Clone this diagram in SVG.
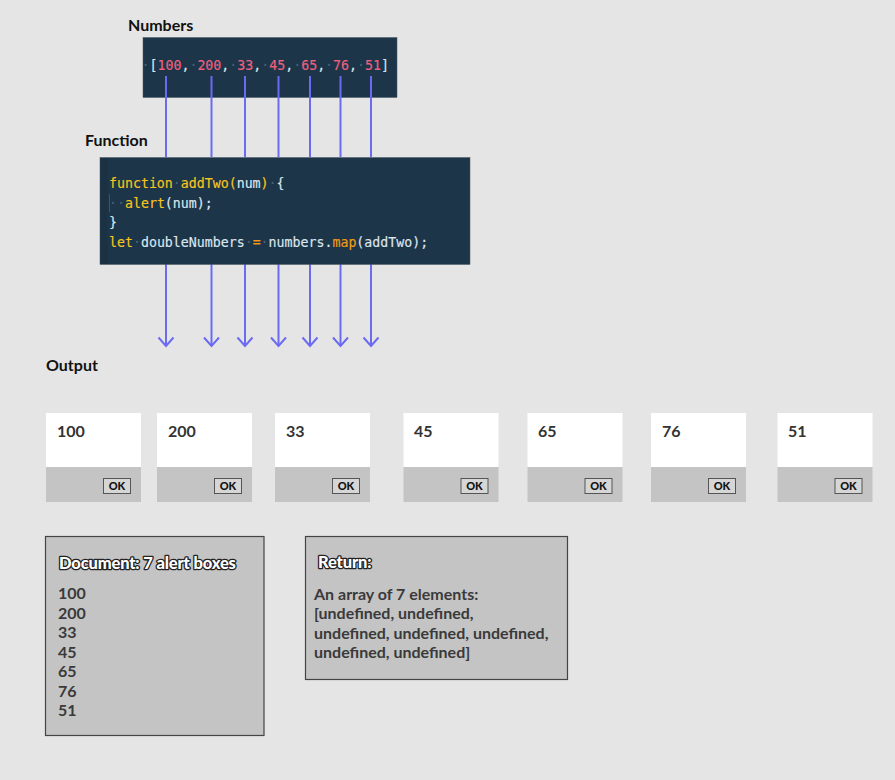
<svg xmlns="http://www.w3.org/2000/svg" width="895" height="780" viewBox="0 0 895 780">
<style>
  .lbl { font-family: Lato, "Liberation Sans", sans-serif; font-weight: bold; font-size: 16px; fill: #111; }
  .code { font-family: "DejaVu Sans Mono", "Liberation Mono", monospace; font-size: 13.25px; fill: #dde6ee; stroke: #dde6ee; stroke-width: 0.15; }
  .ws { fill: #4a6275; stroke: none; }
  .num { fill: #f0607e; stroke: #f0607e; }
  .kw { fill: #f7c51e; stroke: #f7c51e; }
  .op { fill: #f39c12; stroke: #f39c12; }
  .codebox { fill: #1c3549; stroke: #4a5a66; stroke-width: 0.5; }
  .alert-top { fill: #ffffff; }
  .alert-bot { fill: #c4c4c4; }
  .alert-num { font-family: Lato, "Liberation Sans", sans-serif; font-weight: bold; font-size: 16px; fill: #333; }
  .okbtn { fill: #d6d6d6; stroke: #555; stroke-width: 1; }
  .oktxt { font-family: Lato, "Liberation Sans", sans-serif; font-weight: 900; font-size: 11px; fill: #111; text-anchor: middle; }
  .panel { fill: #c4c4c4; stroke: #444; stroke-width: 1.2; }
  .ptitle { font-family: Lato, "Liberation Sans", sans-serif; font-weight: 900; font-size: 16.5px; fill: #fff; stroke: #222; stroke-width: 2.6; paint-order: stroke; stroke-linejoin: round; letter-spacing: -0.15px; }
  .ptext { font-family: Lato, "Liberation Sans", sans-serif; font-weight: bold; font-size: 16px; fill: #3a3a3a; }
  .conn { stroke: #6b6bf2; stroke-width: 2; fill: none; }
</style>
<defs>
  <marker id="arr" markerWidth="20" markerHeight="20" refX="10" refY="10" orient="auto" markerUnits="userSpaceOnUse" viewBox="0 0 20 20">
    <path d="M2.5,1.5 L10,10 L17.5,1.5" transform="rotate(-90 10 10)" fill="none" stroke="#6b6bf2" stroke-width="2"/>
  </marker>
</defs>
<rect x="0" y="0" width="895" height="780" fill="#e5e5e5"/>

<g id="numbers">
  <text class="lbl" x="128" y="31">Numbers</text>
  <rect class="codebox" x="143" y="37.5" width="254" height="60"/>
  <text class="code" x="141.5" y="70" xml:space="preserve"><tspan class="ws">·</tspan>[<tspan class="num">100</tspan>,<tspan class="ws">·</tspan><tspan class="num">200</tspan>,<tspan class="ws">·</tspan><tspan class="num">33</tspan>,<tspan class="ws">·</tspan><tspan class="num">45</tspan>,<tspan class="ws">·</tspan><tspan class="num">65</tspan>,<tspan class="ws">·</tspan><tspan class="num">76</tspan>,<tspan class="ws">·</tspan><tspan class="num">51</tspan>]</text>
</g>

<g id="connectors">
  <line class="conn" x1="166" y1="76" x2="166" y2="157"/>
  <line class="conn" x1="211.5" y1="76" x2="211.5" y2="157"/>
  <line class="conn" x1="245" y1="76" x2="245" y2="157"/>
  <line class="conn" x1="278.5" y1="76" x2="278.5" y2="157"/>
  <line class="conn" x1="310" y1="76" x2="310" y2="157"/>
  <line class="conn" x1="340.5" y1="76" x2="340.5" y2="157"/>
  <line class="conn" x1="371" y1="76" x2="371" y2="157"/>
  <line class="conn" x1="166" y1="264" x2="166" y2="346" marker-end="url(#arr)"/>
  <line class="conn" x1="211.5" y1="264" x2="211.5" y2="346" marker-end="url(#arr)"/>
  <line class="conn" x1="245" y1="264" x2="245" y2="346" marker-end="url(#arr)"/>
  <line class="conn" x1="278.5" y1="264" x2="278.5" y2="346" marker-end="url(#arr)"/>
  <line class="conn" x1="310" y1="264" x2="310" y2="346" marker-end="url(#arr)"/>
  <line class="conn" x1="340.5" y1="264" x2="340.5" y2="346" marker-end="url(#arr)"/>
  <line class="conn" x1="371" y1="264" x2="371" y2="346" marker-end="url(#arr)"/>
</g>

<g id="function">
  <text class="lbl" x="85" y="146">Function</text>
  <rect class="codebox" x="100" y="157.5" width="370" height="107"/>
  <rect x="100.5" y="158" width="7" height="106" fill="#1a3244"/>
  <line x1="109.5" y1="194" x2="109.5" y2="212" stroke="#3c5366" stroke-width="1"/>
  <text class="code" x="109" y="188" xml:space="preserve"><tspan class="kw">function</tspan><tspan class="ws">·</tspan><tspan class="kw">addTwo(</tspan>num<tspan class="kw">)</tspan><tspan class="ws">·</tspan>{</text>
  <text class="code" x="109" y="207.5" xml:space="preserve"><tspan class="ws">··</tspan><tspan class="kw">alert</tspan>(num);</text>
  <text class="code" x="109" y="227" xml:space="preserve">}</text>
  <text class="code" x="109" y="247" xml:space="preserve"><tspan class="kw">let</tspan><tspan class="ws">·</tspan>doubleNumbers<tspan class="ws">·</tspan><tspan class="op">=</tspan><tspan class="ws">·</tspan>numbers.<tspan class="op">map</tspan>(addTwo);</text>
</g>

<g id="output-label">
  <text class="lbl" x="46" y="371">Output</text>
</g>

<g id="alert-100">
  <rect class="alert-top" x="46" y="413" width="95" height="54"/>
  <rect class="alert-bot" x="46" y="467" width="95" height="35"/>
  <text class="alert-num" x="57" y="437">100</text>
  <rect class="okbtn" x="103.5" y="478.5" width="27" height="15"/>
  <text class="oktxt" x="117" y="490">OK</text>
</g>
<g id="alert-200">
  <rect class="alert-top" x="157" y="413" width="95" height="54"/>
  <rect class="alert-bot" x="157" y="467" width="95" height="35"/>
  <text class="alert-num" x="168" y="437">200</text>
  <rect class="okbtn" x="214.5" y="478.5" width="27" height="15"/>
  <text class="oktxt" x="228" y="490">OK</text>
</g>
<g id="alert-33">
  <rect class="alert-top" x="275" y="413" width="95" height="54"/>
  <rect class="alert-bot" x="275" y="467" width="95" height="35"/>
  <text class="alert-num" x="286" y="437">33</text>
  <rect class="okbtn" x="332.5" y="478.5" width="27" height="15"/>
  <text class="oktxt" x="346" y="490">OK</text>
</g>
<g id="alert-45">
  <rect class="alert-top" x="403.5" y="413" width="95" height="54"/>
  <rect class="alert-bot" x="403.5" y="467" width="95" height="35"/>
  <text class="alert-num" x="414" y="437">45</text>
  <rect class="okbtn" x="461" y="478.5" width="27" height="15"/>
  <text class="oktxt" x="474.5" y="490">OK</text>
</g>
<g id="alert-65">
  <rect class="alert-top" x="527.5" y="413" width="95" height="54"/>
  <rect class="alert-bot" x="527.5" y="467" width="95" height="35"/>
  <text class="alert-num" x="538" y="437">65</text>
  <rect class="okbtn" x="585" y="478.5" width="27" height="15"/>
  <text class="oktxt" x="598.5" y="490">OK</text>
</g>
<g id="alert-76">
  <rect class="alert-top" x="651" y="413" width="95" height="54"/>
  <rect class="alert-bot" x="651" y="467" width="95" height="35"/>
  <text class="alert-num" x="662" y="437">76</text>
  <rect class="okbtn" x="708.5" y="478.5" width="27" height="15"/>
  <text class="oktxt" x="722" y="490">OK</text>
</g>
<g id="alert-51">
  <rect class="alert-top" x="777.5" y="413" width="95" height="54"/>
  <rect class="alert-bot" x="777.5" y="467" width="95" height="35"/>
  <text class="alert-num" x="788" y="437">51</text>
  <rect class="okbtn" x="835" y="478.5" width="27" height="15"/>
  <text class="oktxt" x="848.5" y="490">OK</text>
</g>

<g id="document-panel">
  <rect class="panel" x="45.5" y="536.5" width="218.5" height="199"/>
  <text class="ptitle" x="59" y="569">Document: 7 alert boxes</text>
  <text class="ptext" x="58" y="599">100</text>
  <text class="ptext" x="58" y="618.5">200</text>
  <text class="ptext" x="58" y="638">33</text>
  <text class="ptext" x="58" y="657.5">45</text>
  <text class="ptext" x="58" y="677">65</text>
  <text class="ptext" x="58" y="696.5">76</text>
  <text class="ptext" x="58" y="716">51</text>
</g>

<g id="return-panel">
  <rect class="panel" x="305.5" y="536.5" width="262" height="143"/>
  <text class="ptitle" x="318" y="568">Return:</text>
  <text class="ptext" x="314" y="599.5">An array of 7 elements:</text>
  <text class="ptext" x="314" y="619">[undefined, undefined,</text>
  <text class="ptext" x="314" y="638.5">undefined, undefined, undefined,</text>
  <text class="ptext" x="314" y="658">undefined, undefined]</text>
</g>
</svg>
